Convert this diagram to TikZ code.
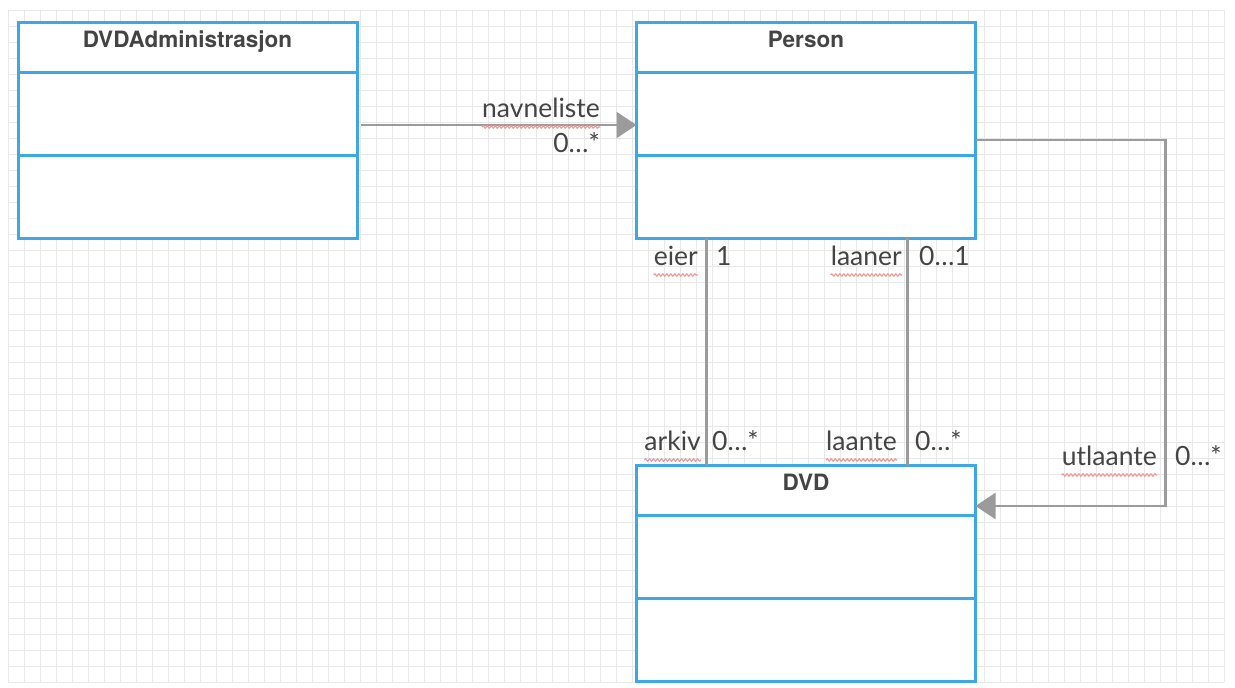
\documentclass[tikz,border=0pt]{standalone}
\usepackage{fontspec}
\setmainfont{Lato}
\newfontfamily\titlefont{TeX Gyre Heros}
\usetikzlibrary{positioning,calc,arrows.meta,decorations.pathmorphing}

\definecolor{umlblue}{HTML}{3DA8E3}
\definecolor{linegray}{HTML}{9B9B9B}
\definecolor{textgray}{HTML}{444444}
\definecolor{gridgray}{HTML}{E8E8E8}
\definecolor{spellred}{HTML}{F29A9A}

\tikzset{
    classbox/.style={draw=umlblue, line width=3pt, fill=white,
        minimum width=339pt, inner sep=0pt, outer sep=0pt},
    classhead/.style={classbox, minimum height=50pt},
    classpart/.style={classbox, minimum height=83pt},
    classname/.style={font=\titlefont\bfseries\fontsize{22.5}{24}\selectfont,
        text=textgray, inner sep=0pt},
    assoc/.style={draw=linegray, line width=2.5pt},
    assocarrow/.style={assoc, -{Triangle[length=20pt, width=26pt]}},
    rolename/.style={font=\fontsize{26.5}{28}\selectfont, text=textgray,
        inner sep=0pt, anchor=base east},
    multi/.style={font=\fontsize{26.5}{28}\selectfont, text=textgray,
        inner sep=0pt, anchor=base west},
    squiggly/.style={draw=spellred, line width=1.2pt, decorate,
        decoration={snake, amplitude=1.2pt, segment length=4pt}}
}

\begin{document}
\begin{tikzpicture}[x=1pt, y=-1pt]
    \useasboundingbox[fill=white] (0,0) rectangle (1235,688);
    \begin{scope} % Background grid
        \foreach \gx in {8,24,...,1224}
            \draw[gridgray, line width=0.8pt] (\gx,10) -- (\gx,682);
        \foreach \gy in {10,26,...,682}
            \draw[gridgray, line width=0.8pt] (8,\gy) -- (1224,\gy);
    \end{scope}
    \begin{scope} % Classes
        \node[classhead] (admin) at (187.5,47) {};
        \node[classpart, below=0pt of admin] (admin attr) {};
        \node[classpart, below=0pt of admin attr] (admin ops) {};
        \node[classname, anchor=base] (admin name) at (admin.center) {DVDAdministrasjon};

        \node[classhead] (person) at (806,47) {};
        \node[classpart, below=0pt of person] (person attr) {};
        \node[classpart, below=0pt of person attr] (person ops) {};
        \node[classname, anchor=base] (person name) at (person.center) {Person};

        \node[classhead] (dvd) at (806,490) {};
        \node[classpart, below=0pt of dvd] (dvd attr) {};
        \node[classpart, below=0pt of dvd attr] (dvd ops) {};
        \node[classname, anchor=base] (dvd name) at (dvd.center) {DVD};
    \end{scope}
    \begin{scope} % Associations
        \draw[assocarrow] ($(admin attr.east)+(4,11.5)$) -- ($(person attr.west)+(0,11.5)$);
        \draw[assoc] ($(person ops.south west)+(70,0)$) -- ($(dvd.north west)+(70,0)$);
        \draw[assoc] ($(person ops.south west)+(271,0)$) -- ($(dvd.north west)+(271,0)$);
        \coordinate (utl bend) at ($(person ops.north east)+(190,-15)$);
        \draw[assocarrow] ($(person ops.north east)+(0,-15)$) -- (utl bend)
            |- ($(dvd attr.north east)+(0,-9)$);
    \end{scope}
    \begin{scope} % Role names and multiplicities
        \node[rolename] (navneliste) at (600,117) {navneliste};
        \node[rolename] (nav mult) at (600,152) {0…*};
        \node[rolename] (eier) at (698,265) {eier};
        \node[multi] (eier mult) at (716,265) {1};
        \node[rolename] (laaner) at (902,265) {laaner};
        \node[multi] (laaner mult) at (919,265) {0…1};
        \node[rolename] (arkiv) at (701,450) {arkiv};
        \node[multi] (arkiv mult) at (712,450) {0…*};
        \node[rolename] (laante) at (897,450) {laante};
        \node[multi] (laante mult) at (915,450) {0…*};
        \node[rolename] (utlaante) at (1157,465) {utlaante};
        \node[multi] (utlaante mult) at (1175,465) {0…*};
        \foreach \r in {navneliste, eier, laaner, arkiv, laante, utlaante}
            \draw[squiggly] ($(\r.base west)+(0,10)$) -- ($(\r.base east)+(0,10)$);
    \end{scope}
\end{tikzpicture}
\end{document}
